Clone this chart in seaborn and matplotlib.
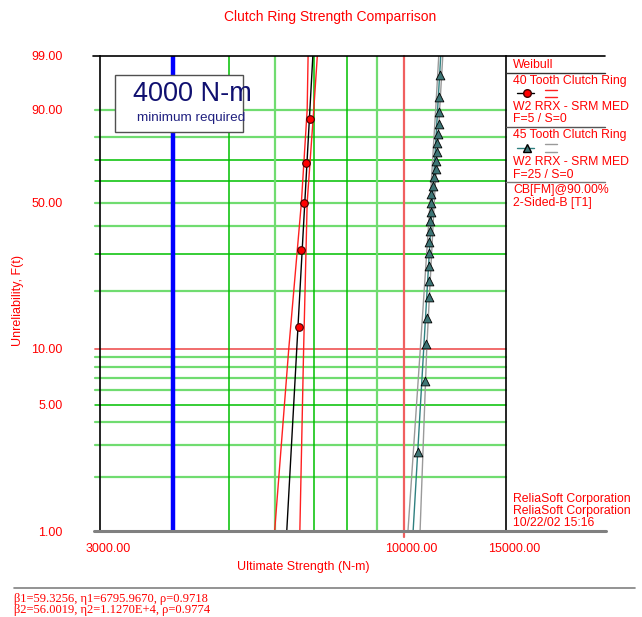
import numpy as np
import matplotlib
matplotlib.use('Agg')
import matplotlib.pyplot as plt
import matplotlib.transforms as mtransforms
from matplotlib.lines import Line2D
from matplotlib.patches import Rectangle
import seaborn as sns
import pandas as pd

# values
ring40_strength = [6610, 6650, 6745, 6795, 6910]
ring45_strength = [10570, 10880, 10910, 10960, 11040, 11055, 11065, 11065, 11070, 11090,
                   11115, 11140, 11145, 11150, 11250, 11295, 11370, 11380, 11400, 11430,
                   11460, 11490, 11505, 11510, 11550]

fit_F = [1, 99]
ring40_fit = [6290, 6975]
ring45_fit = [10380, 11580]

bound_F = [1, 10, 50, 90, 99]
ring40_lower = [5995, 6340, 6665, 6820, 6845]
ring40_upper = [6625, 6725, 6820, 7000, 7100]
ring45_lower = [10170, 10680, 11100, 11350, 11490]
ring45_upper = [10670, 10955, 11285, 11530, 11675]

min_required = 4000

ytick_vals = [1, 5, 10, 50, 90, 99]
xtick_vals = [3000, 10000, 15000]
hgrid_dark = [5, 30, 60, 70]
hgrid_light = [2, 3, 4, 6, 7, 8, 9, 20, 40, 50, 80, 90]
vgrid_dark = [5000, 7000, 8000]
vgrid_light = [6000, 9000]

legend_lines = ["Weibull", "40 Tooth Clutch Ring", "W2 RRX - SRM MED", "F=5 / S=0",
                "45 Tooth Clutch Ring", "W2 RRX - SRM MED", "F=25 / S=0",
                "CB[FM]@90.00%", "2-Sided-B [T1]"]
footer = ["β1=59.3256, η1=6795.9670, ρ=0.9718",
          "β2=56.0019, η2=1.1270E+4, ρ=0.9774"]


def median_rank(n):
    i = np.arange(1, n + 1)
    return 100 * (i - 0.3) / (n + 0.4)


def weib_fwd(F):
    F = np.clip(np.asarray(F, dtype=float), 1e-9, 100 - 1e-9)
    return np.log(-np.log(1 - F / 100))


def weib_inv(z):
    return 100 * (1 - np.exp(-np.exp(z)))


sns.set_style('white')
plt.rcParams['font.family'] = ['Liberation Sans', 'DejaVu Sans']

W, H = 642, 617
fig = plt.figure(figsize=(W / 100, H / 100), dpi=100)


def fx(px):
    return px / W


def fy(py):
    return 1 - py / H


ax = fig.add_axes([fx(100), fy(531), fx(506) - fx(100), fy(56) - fy(531)])
ax.set_xscale('log')
ax.set_yscale('function', functions=(weib_fwd, weib_inv))
ax.set_xlim(3000, 15000)
ax.set_ylim(1, 99)

# grid
for f in hgrid_light:
    ax.axhline(f, xmin=-0.013, xmax=1, color='#70dc70', lw=1.6, clip_on=False, zorder=1)
for f in hgrid_dark:
    ax.axhline(f, xmin=-0.013, xmax=1, color='#00c000', lw=1.1, clip_on=False, zorder=1)
ax.axhline(10, xmin=-0.013, xmax=1, color='#f06060', lw=1.3, clip_on=False, zorder=1)
for v in vgrid_light:
    ax.axvline(v, color='#70dc70', lw=1.6, zorder=1)
for v in vgrid_dark:
    ax.axvline(v, color='#00c000', lw=1.1, zorder=1)
ax.axvline(10000, ymin=-0.012, color='#f06060', lw=1.6, clip_on=False, zorder=1)
ax.axvline(min_required, color='#0000ff', lw=3.2, zorder=2)

# fitted lines and bounds
sns.lineplot(x=ring40_lower, y=bound_F, sort=False, estimator=None, color='#ff2020', lw=1, ax=ax, zorder=3)
sns.lineplot(x=ring40_upper, y=bound_F, sort=False, estimator=None, color='#ff2020', lw=1, ax=ax, zorder=3)
sns.lineplot(x=ring40_fit, y=fit_F, sort=False, estimator=None, color='black', lw=1, ax=ax, zorder=4)
sns.lineplot(x=ring45_lower, y=bound_F, sort=False, estimator=None, color='#9a9a9a', lw=1, ax=ax, zorder=3)
sns.lineplot(x=ring45_upper, y=bound_F, sort=False, estimator=None, color='#9a9a9a', lw=1, ax=ax, zorder=3)
sns.lineplot(x=ring45_fit, y=fit_F, sort=False, estimator=None, color='#2f8080', lw=1, ax=ax, zorder=4)

df40 = pd.DataFrame({'x': ring40_strength, 'F': median_rank(len(ring40_strength))})
df45 = pd.DataFrame({'x': ring45_strength, 'F': median_rank(len(ring45_strength))})
sns.scatterplot(data=df40, x='x', y='F', marker='o', s=30, color='#ff0000',
                edgecolor='#400000', linewidth=0.8, ax=ax, zorder=5)
sns.scatterplot(data=df45, x='x', y='F', marker='^', s=40, color='#3d7575',
                edgecolor='black', linewidth=0.6, ax=ax, zorder=5)

# axes styling
for s in ['top', 'bottom']:
    ax.spines[s].set_visible(False)
for s in ['left', 'right']:
    ax.spines[s].set_color('black')
    ax.spines[s].set_linewidth(1.2)

ax.set_xticks(xtick_vals)
ax.set_xticklabels([f"{v:.2f}" for v in xtick_vals], color='red', fontsize=9)
ax.xaxis.set_minor_locator(matplotlib.ticker.NullLocator())
ax.set_yticks(ytick_vals)
ax.set_yticklabels([f"{v:.2f}" for v in ytick_vals], color='red', fontsize=9)
ax.yaxis.set_minor_locator(matplotlib.ticker.NullLocator())
ax.tick_params(axis='x', length=0, pad=9)
ax.tick_params(axis='y', length=0, pad=27)
shift = mtransforms.ScaledTranslation(8 / 100, 0, fig.dpi_scale_trans)
for lab in ax.get_xticklabels():
    lab.set_transform(lab.get_transform() + shift)

ax.set_xlabel("Ultimate Strength (N-m)", color='red', fontsize=9, labelpad=4)
ax.set_ylabel("")
ax.grid(False)
fig.text(fx(18), fy(300), "Unreliability, F(t)", rotation=90, color='red',
         fontsize=9, ha='center', va='center')
fig.text(fx(330), fy(17), "Clutch Ring Strength Comparrison", color='red',
         fontsize=10, ha='center', va='center')

# frame lines that run past the plot
fig.add_artist(Line2D([fx(93), fx(605)], [fy(56), fy(56)], color='black', lw=1.2))
fig.add_artist(Line2D([fx(94), fx(606)], [fy(531), fy(531)], color='#808080', lw=2.2))
for py, c in [(73, '#333333'), (127, '#555555'), (182, '#777777')]:
    fig.add_artist(Line2D([fx(506), fx(605)], [fy(py), fy(py)], color=c, lw=1))

# legend block
legend_y = [65, 81, 107, 119, 135, 162, 175, 190, 203]
for txt, py in zip(legend_lines, legend_y):
    fig.text(fx(513), fy(py), txt, color='red', fontsize=8.8, va='center', ha='left')

fig.add_artist(Line2D([fx(517), fx(534)], [fy(93), fy(93)], color='black', lw=1))
fig.add_artist(Line2D([fx(527)], [fy(93)], marker='o', ms=5.5, mfc='#ff0000', mec='#400000', lw=0))
for py in [90, 97]:
    fig.add_artist(Line2D([fx(545), fx(557)], [fy(py), fy(py)], color='#ff2020', lw=1))
fig.add_artist(Line2D([fx(517), fx(534)], [fy(148), fy(148)], color='#2f8080', lw=1))
fig.add_artist(Line2D([fx(527)], [fy(148)], marker='^', ms=6, mfc='#3d7575', mec='black', lw=0))
for py in [144, 152]:
    fig.add_artist(Line2D([fx(545), fx(557)], [fy(py), fy(py)], color='#9a9a9a', lw=1))

for txt, py in zip(["ReliaSoft Corporation", "ReliaSoft Corporation", "10/22/02 15:16"], [499, 511, 523]):
    fig.text(fx(513), fy(py), txt, color='red', fontsize=8.8, va='center', ha='left')

# annotation box
fig.add_artist(Rectangle((fx(115), fy(132)), fx(243) - fx(115), fy(75) - fy(132),
                         facecolor='white', edgecolor='#505050', lw=1, zorder=6))
fig.text(fx(192), fy(94), "4000 N-m", color='#101070', fontsize=19.5, ha='center', va='center', zorder=7)
fig.text(fx(191), fy(118), "minimum required", color='#202080', fontsize=9.7, ha='center', va='center', zorder=7)

# footer
fig.add_artist(Line2D([fx(14), fx(635)], [fy(588), fy(588)], color='#808080', lw=1.2))
for txt, py in zip(footer, [599, 610]):
    fig.text(fx(14), fy(py), txt, color='red', fontsize=9, va='center', ha='left',
             family=['Liberation Serif', 'DejaVu Serif'])

fig.savefig('out.png', dpi=100)
